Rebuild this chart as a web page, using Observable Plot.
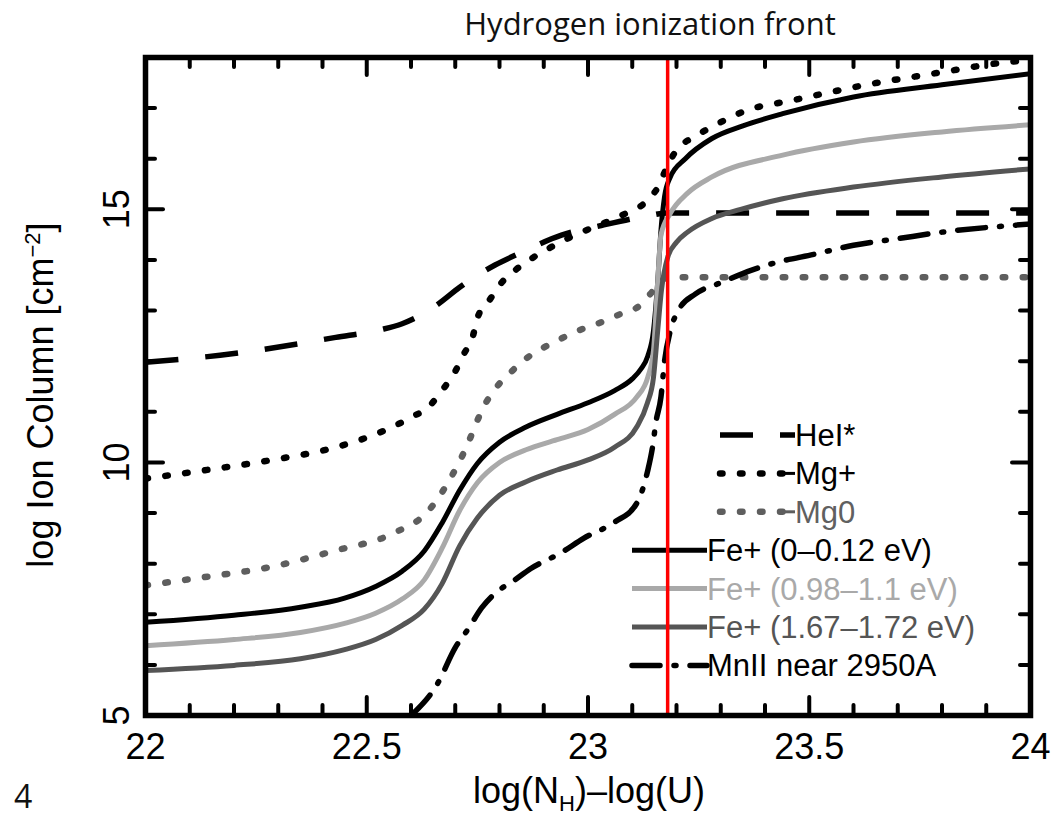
<!DOCTYPE html>
<html>
<head>
<meta charset="utf-8">
<script src="https://cdn.jsdelivr.net/npm/d3@7"></script>
<script src="https://cdn.jsdelivr.net/npm/@observablehq/plot@0.6"></script>
<style>
  html, body { margin: 0; padding: 0; background: #fff; }
  #wrap { position: relative; width: 1056px; height: 816px; overflow: hidden; background: #fff; }
  #wrap > svg { position: absolute; left: 0; top: 0; }
</style>
</head>
<body>
<div id="wrap"></div>
<script>
// ---------------- data ----------------
const titleText = "Hydrogen ionization front";
const panelNumber = "4";
const xTitle = ["log(N", "H", ")–log(U)"];
const yTitle = ["log Ion Column [cm", "−2", "]"];
const hFront = 23.18;

const xDomain = [22, 24];
const yDomain = [5, 18];
const xTickLabels = [22, 22.5, 23, 23.5, 24];
const xMajorTicks = [22.5, 23, 23.5];
const xMinorTicks = [22.1, 22.2, 22.3, 22.4, 22.6, 22.7, 22.8, 22.9, 23.1, 23.2, 23.3, 23.4, 23.6, 23.7, 23.8, 23.9];
const yTickLabels = [5, 10, 15];
const yMajorTicks = [10, 15];
const yMinorTicks = [6, 7, 8, 9, 11, 12, 13, 14, 16, 17];

const seriesNames = ["HeI*", "Mg+", "Mg0", "Fe+ (0–0.12 eV)", "Fe+ (0.98–1.1 eV)", "Fe+ (1.67–1.72 eV)", "MnII near 2950A"];

const heX = [22.0, 22.2, 22.43, 22.53, 22.58, 22.62, 22.66, 22.71, 22.79, 22.85, 22.94, 23.03, 23.14, 23.18, 24.0];
const heY = [11.98, 12.15, 12.47, 12.62, 12.74, 12.9, 13.12, 13.46, 13.9, 14.15, 14.49, 14.68, 14.88, 14.93, 14.93];

const mgpX = [22.0, 22.13, 22.28, 22.43, 22.54, 22.6, 22.64, 22.67, 22.7, 22.72, 22.74, 22.75, 22.78, 22.8, 22.84, 22.88, 22.92, 22.96, 23.05, 23.09, 23.13, 23.16, 23.18, 23.2, 23.24, 23.28, 23.36, 23.46, 23.55, 23.64, 23.73, 23.82, 23.92, 24.0];
const mgpY = [9.68, 9.84, 10.04, 10.3, 10.63, 10.89, 11.1, 11.42, 11.8, 12.15, 12.5, 12.85, 13.24, 13.5, 13.83, 14.07, 14.27, 14.45, 14.78, 14.94, 15.14, 15.47, 15.87, 16.17, 16.43, 16.63, 16.96, 17.15, 17.32, 17.48, 17.61, 17.74, 17.88, 17.95];

const mg0X = [22.0, 22.13, 22.28, 22.43, 22.56, 22.64, 22.69, 22.73, 22.75, 22.77, 22.79, 22.83, 22.86, 22.9, 22.94, 22.98, 23.03, 23.07, 23.12, 23.148, 23.18, 24.0];
const mg0Y = [7.57, 7.73, 7.93, 8.26, 8.6, 9.05, 9.7, 10.4, 10.83, 11.19, 11.45, 11.82, 12.05, 12.27, 12.45, 12.61, 12.77, 12.92, 13.12, 13.4, 13.66, 13.66];

const fe1X = [22.0, 22.2, 22.35, 22.45, 22.52, 22.58, 22.63, 22.67, 22.71, 22.75, 22.8, 22.86, 22.93, 23.0, 23.06, 23.1, 23.12, 23.135, 23.148, 23.157, 23.165, 23.173, 23.185, 23.22, 23.28, 23.35, 23.44, 23.6, 23.8, 24.0];
const fe1Y = [6.84, 6.98, 7.14, 7.32, 7.55, 7.85, 8.25, 8.8, 9.45, 9.98, 10.4, 10.7, 10.95, 11.18, 11.42, 11.65, 11.85, 12.1, 12.6, 13.5, 14.6, 15.25, 15.62, 16.0, 16.4, 16.65, 16.89, 17.22, 17.46, 17.68];

const fe2X = [22.0, 22.2, 22.35, 22.45, 22.52, 22.58, 22.63, 22.67, 22.71, 22.75, 22.8, 22.86, 22.93, 23.0, 23.06, 23.11, 23.135, 23.148, 23.157, 23.165, 23.186, 23.225, 23.28, 23.44, 23.6, 23.8, 24.0];
const fe2Y = [6.38, 6.5, 6.64, 6.82, 7.02, 7.3, 7.68, 8.3, 9.05, 9.6, 10.0, 10.25, 10.45, 10.65, 10.95, 11.29, 11.68, 12.21, 13.5, 14.5, 14.92, 15.32, 15.64, 16.07, 16.33, 16.53, 16.67];

const fe3X = [22.0, 22.2, 22.35, 22.45, 22.52, 22.58, 22.63, 22.67, 22.71, 22.75, 22.8, 22.86, 22.93, 23.0, 23.06, 23.11, 23.134, 23.148, 23.157, 23.166, 23.18, 23.2, 23.225, 23.28, 23.345, 23.44, 23.6, 23.8, 24.0];
const fe3Y = [5.89, 5.99, 6.12, 6.3, 6.5, 6.78, 7.1, 7.6, 8.35, 8.9, 9.35, 9.62, 9.85, 10.05, 10.3, 10.7, 11.17, 11.68, 12.55, 13.4, 14.05, 14.35, 14.55, 14.82, 15.0, 15.21, 15.44, 15.64, 15.8];

const mnX = [22.6, 22.66, 22.7, 22.73, 22.76, 22.795, 22.83, 22.87, 22.94, 22.99, 23.06, 23.11, 23.125, 23.135, 23.147, 23.153, 23.165, 23.173, 23.186, 23.204, 23.243, 23.3, 23.37, 23.43, 23.51, 23.6, 23.7, 23.8, 23.9, 24.0];
const mnY = [5.0, 5.63, 6.34, 6.72, 7.13, 7.45, 7.65, 7.9, 8.22, 8.5, 8.82, 9.19, 9.51, 9.84, 10.37, 10.77, 11.3, 12.0, 12.6, 13.0, 13.33, 13.55, 13.8, 13.96, 14.11, 14.29, 14.42, 14.55, 14.64, 14.71];

// ---------------- styles ----------------
const seriesData = [[heX, heY], [mgpX, mgpY], [mg0X, mg0Y], [fe1X, fe1Y], [fe2X, fe2Y], [fe3X, fe3Y], [mnX, mnY]];
const styles = [
  {stroke: "#000", width: 5.5, dash: "33,27", cap: "butt", text: "#000"},
  {stroke: "#000", width: 6.5, dash: "2.5,17.5", cap: "round", text: "#000"},
  {stroke: "#5e5e5e", width: 6.5, dash: "2.5,17.5", cap: "round", text: "#606060"},
  {stroke: "#000", width: 5, dash: null, cap: "butt", text: "#000"},
  {stroke: "#a9a9a9", width: 5, dash: null, cap: "butt", text: "#a9a9a9"},
  {stroke: "#555", width: 5, dash: null, cap: "butt", text: "#555"},
  {stroke: "#000", width: 5.5, dash: "28,14,2,14", cap: "round", text: "#000"}
];

const W = 1056, H = 816;
const mL = 145, mR = 26, mT = 57, mB = 101;
const innerW = W - mL - mR, innerH = H - mT - mB;
const minorLen = 10, majorLen = 18;
const font = "'Liberation Sans', Arial, Helvetica, sans-serif";

const rows = seriesNames.flatMap((name, k) =>
  seriesData[k][0].map((x, i) => ({name, x, y: seriesData[k][1][i]})));

const lineMarks = seriesNames.map((name, k) => Plot.line(rows.filter(d => d.name === name), {
  x: "x", y: "y", curve: "monotone-x", clip: true,
  stroke: styles[k].stroke, strokeWidth: styles[k].width,
  strokeDasharray: styles[k].dash, strokeLinecap: styles[k].cap, strokeLinejoin: "round"
}));

const tickStyle = {stroke: "#000", strokeWidth: 4, strokeLinecap: "round"};

const chart = Plot.plot({
  width: W, height: H,
  marginLeft: mL, marginRight: mR, marginTop: mT, marginBottom: mB,
  x: {domain: xDomain},
  y: {domain: yDomain},
  style: {fontFamily: font, fontSize: "36px", background: "transparent", color: "#000"},
  marks: [
    ...lineMarks,
    Plot.ruleX([hFront], {stroke: "#ff0000", strokeWidth: 3.5}),
    // inward ticks on all four sides
    Plot.ruleX(xMinorTicks, {...tickStyle, insetTop: innerH - minorLen}),
    Plot.ruleX(xMajorTicks, {...tickStyle, insetTop: innerH - majorLen}),
    Plot.ruleX(xMinorTicks, {...tickStyle, insetBottom: innerH - minorLen}),
    Plot.ruleX(xMajorTicks, {...tickStyle, insetBottom: innerH - majorLen}),
    Plot.ruleY(yMinorTicks, {...tickStyle, insetRight: innerW - minorLen}),
    Plot.ruleY(yMajorTicks, {...tickStyle, insetRight: innerW - majorLen}),
    Plot.ruleY(yMinorTicks, {...tickStyle, insetLeft: innerW - minorLen}),
    Plot.ruleY(yMajorTicks, {...tickStyle, insetLeft: innerW - majorLen}),
    Plot.frame({stroke: "#000", strokeWidth: 5.5}),
    Plot.axisX(xTickLabels, {tickSize: 0, tickPadding: 18, label: null, fontSize: 36, tickFormat: d => String(d)}),
    Plot.axisY(yTickLabels, {tickSize: 0, tickPadding: 28, tickRotate: -90, textAnchor: "middle", lineAnchor: "middle", label: null, fontSize: 36, tickFormat: d => String(d)})
  ]
});

// ---------------- background layer: titles + legend (red rule overlays legend) ----------------
const wrap = document.getElementById("wrap");
const bg = d3.create("svg").attr("width", W).attr("height", H).attr("viewBox", `0 0 ${W} ${H}`);

bg.append("text").attr("x", 650).attr("y", 35).attr("text-anchor", "middle")
  .style("font-family", "'Open Sans', sans-serif").style("font-size", "31px").attr("fill", "#111")
  .text(titleText);
bg.append("text").attr("x", 14).attr("y", 808)
  .style("font-family", "'Open Sans', sans-serif").style("font-size", "32px").attr("fill", "#111")
  .text(panelNumber);

const xt = bg.append("text").attr("x", 589).attr("y", 803).attr("text-anchor", "middle")
  .style("font-family", font).style("font-size", "36px").attr("fill", "#000");
xt.append("tspan").text(xTitle[0]);
xt.append("tspan").attr("dy", 8).style("font-size", "22px").text(xTitle[1]);
xt.append("tspan").attr("dy", -8).text(xTitle[2]);

const yt = bg.append("text").attr("transform", "translate(53,395) rotate(-90)").attr("text-anchor", "middle")
  .style("font-family", font).style("font-size", "36px").attr("fill", "#000");
yt.append("tspan").text(yTitle[0]);
yt.append("tspan").attr("dy", -13).style("font-size", "22px").text(yTitle[1]);
yt.append("tspan").attr("dy", 13).text(yTitle[2]);

// legend
const legY0 = 435, legDy = 38.4;
seriesNames.forEach((name, k) => {
  const s = styles[k];
  const x0 = k < 3 ? 720 : 632;
  const x1 = x0 + 75;
  const y = legY0 + k * legDy;
  bg.append("line").attr("x1", x0).attr("x2", x1).attr("y1", y).attr("y2", y)
    .attr("stroke", s.stroke).attr("stroke-width", s.width)
    .attr("stroke-dasharray", s.dash).attr("stroke-linecap", s.cap);
  bg.append("line").attr("x1", x1 - 12).attr("x2", x1).attr("y1", y).attr("y2", y)
    .attr("stroke", s.stroke).attr("stroke-width", 3);
  bg.append("text").attr("x", x1).attr("y", y + 11)
    .style("font-family", font).style("font-size", "31px").attr("fill", s.text)
    .text(name);
});

wrap.appendChild(bg.node());
wrap.appendChild(chart);
</script>
</body>
</html>
